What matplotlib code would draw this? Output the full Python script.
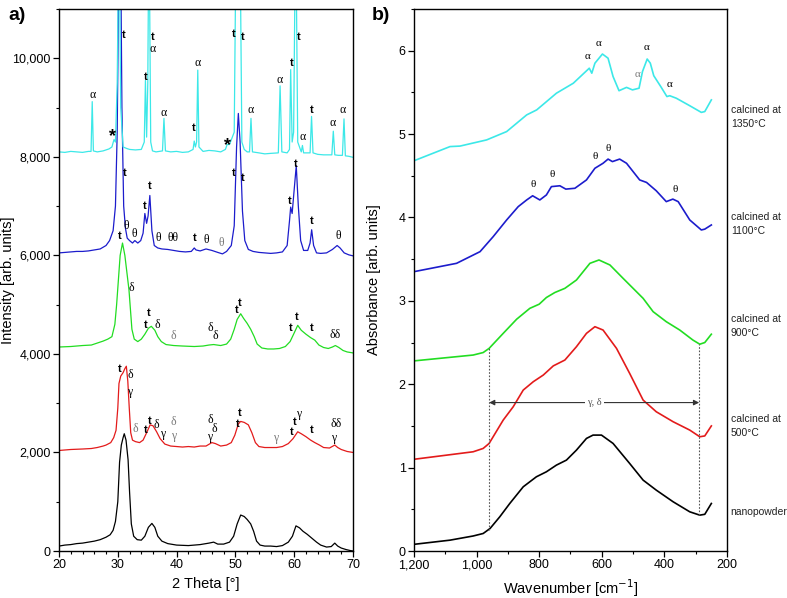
import matplotlib
matplotlib.use("Agg")
import matplotlib.pyplot as plt
from matplotlib.ticker import MultipleLocator, FuncFormatter

plt.rcParams['font.family'] = ['Liberation Sans', 'DejaVu Sans']

# ---------------- Panel a: XRD data ----------------
c1350_x = [20, 21, 22, 23, 24, 25, 25.45, 25.65, 25.85, 26.5, 27.5, 28.5, 29.0, 29.35, 29.6, 29.9, 30.2, 30.5,
           30.9, 31.5, 32, 33, 34.0, 34.5, 34.7, 34.9, 35.1, 35.3, 35.6, 35.9, 36.5, 37.6, 37.85, 38.1, 39, 40, 41,
           42, 42.8, 43.0, 43.2, 43.4, 43.6, 43.8, 44.5, 45.5, 46.5, 47.5, 48.3, 48.6, 49.0, 49.8, 50.15, 50.45,
           50.75, 51.1, 51.5, 52.0, 52.4, 52.65, 52.9, 54, 55, 56, 57.3, 57.6, 57.9, 58.8, 59.2, 59.4, 59.65, 59.9,
           60.25, 60.6, 61.2, 61.4, 61.6, 62.7, 62.95, 63.2, 64, 65, 66.4, 66.65, 66.9, 67.5, 68.2, 68.47, 68.7,
           69.3, 70]
c1350_y = [8100, 8090, 8110, 8100, 8090, 8110, 8110, 9120, 8120, 8100, 8120, 8160, 8200, 8350, 8300, 9500, 13000,
           9000, 8200, 8170, 8150, 8140, 8150, 8300, 9550, 8400, 9500, 13000, 8300, 8120, 8100, 8120, 8780, 8120,
           8100, 8110, 8090, 8100, 8150, 8320, 8200, 8300, 9760, 8200, 8110, 8130, 8120, 8100, 8150, 8250, 8250,
           8500, 13000, 12000, 13000, 8300, 8150, 8100, 8100, 8780, 8100, 8080, 8060, 8070, 8080, 9440, 8100, 8080,
           8150, 9770, 8300, 8500, 13000, 8300, 8100, 8230, 8080, 8080, 8820, 8080, 8050, 8040, 8040, 8520, 8040,
           8030, 8030, 8770, 8020, 8010, 7990]

c1100_x = [20, 21, 22, 23, 24, 25, 26, 27, 28, 28.6, 29.2, 29.6, 29.9, 30.1, 30.3, 30.5, 30.7, 31.0, 31.3, 31.6,
           32.0, 32.5, 32.9, 33.4, 33.9, 34.3, 34.6, 34.9, 35.15, 35.45, 35.8, 36.2, 36.8, 37.5, 38.5, 39.5, 40.5,
           41.5, 42.5, 43.0, 43.3, 44.0, 45.0, 46.0, 47.0, 47.8, 48.5, 49.3, 49.8, 50.2, 50.5, 50.8, 51.2, 51.6,
           52.2, 53, 54, 55, 56, 57, 58, 58.8, 59.2, 59.4, 59.65, 59.9, 60.35, 60.7, 61.1, 61.6, 62.3, 62.7, 62.97,
           63.3, 63.8, 64.5, 65.5, 66.5, 67.3, 67.8, 68.5, 69.3, 70]
c1100_y = [6050, 6060, 6070, 6080, 6080, 6090, 6110, 6130, 6200, 6300, 6500, 7000, 8500, 11000, 13000, 12000, 9000,
           7000, 6550, 6350, 6300, 6250, 6300, 6250, 6300, 6450, 6850, 6650, 6800, 7215, 6500, 6200, 6150, 6130,
           6120, 6100, 6080, 6070, 6080, 6150, 6110, 6090, 6130, 6100, 6060, 6030, 6080, 6200, 6600, 8200, 8880,
           8300, 6900, 6300, 6120, 6080, 6060, 6050, 6040, 6050, 6070, 6200, 6700, 6980, 6850, 7200, 7820, 7000,
           6300, 6100, 6100, 6250, 6520, 6200, 6050, 6040, 6050, 6120, 6200, 6150, 6050, 6010, 5990]

c900_x = [20, 22, 24, 25.5, 26.5, 27.5, 28.3, 29.0, 29.5, 29.8, 30.1, 30.4, 30.8, 31.2, 31.6, 31.9, 32.15, 32.4,
          32.8, 33.4, 34.0, 34.6, 35.2, 35.7, 36.3, 36.8, 37.4, 38.2, 39.5, 41, 43, 44.5, 45.5, 46.3, 47.5, 48.5,
          49.2, 49.8, 50.3, 50.9, 51.4, 52.0, 52.6, 53.2, 53.7, 54.5, 55.5, 56.5, 57.5, 58.5, 59.3, 59.9, 60.6,
          61.2, 62.0, 62.8, 63.5, 64.2, 65, 65.8, 66.5, 67.0, 67.6, 68.3, 69, 70]
c900_y = [4140, 4150, 4170, 4180, 4220, 4260, 4300, 4350, 4600, 5000, 5500, 6000, 6250, 6000, 5600, 5300, 4900,
          4500, 4300, 4250, 4300, 4400, 4520, 4560, 4480, 4350, 4250, 4190, 4170, 4160, 4150, 4160, 4180, 4190,
          4170, 4200, 4300, 4500, 4700, 4815, 4720, 4620, 4500, 4350, 4200, 4120, 4100, 4100, 4110, 4150, 4250,
          4400, 4580, 4480, 4400, 4330, 4280, 4180, 4130, 4110, 4140, 4170, 4130, 4070, 4040, 4020]

c500_x = [20, 22, 24, 25.5, 26.5, 27.5, 28, 28.8, 29.3, 29.7, 30.0, 30.2, 30.5, 30.9, 31.2, 31.45, 31.7, 31.95,
          32.2, 32.5, 33, 33.7, 34.3, 34.9, 35.5, 36.0, 36.6, 37.2, 38, 39, 40, 41, 42, 43, 44, 45, 46, 46.6, 47.5,
          48.5, 49.3, 49.9, 50.5, 50.9, 51.5, 52.2, 52.8, 53.4, 54, 55, 56, 57, 58, 59, 59.8, 60.6, 61.2, 62, 62.8,
          63.5, 64.3, 65, 66, 66.9, 67.4, 68, 69, 70]
c500_y = [2040, 2060, 2070, 2080, 2100, 2130, 2150, 2200, 2300, 2450, 2900, 3400, 3550, 3620, 3700, 3750, 3450,
          2900, 2400, 2250, 2220, 2200, 2250, 2400, 2560, 2540, 2420, 2280, 2170, 2130, 2120, 2110, 2120, 2110,
          2130, 2130, 2200, 2180, 2130, 2150, 2200, 2350, 2580, 2630, 2610, 2560, 2400, 2200, 2120, 2100, 2100,
          2100, 2120, 2180, 2280, 2420, 2380, 2320, 2250, 2200, 2150, 2100, 2090, 2150, 2100, 2060, 2020, 2000]

nano_x = [20, 21, 22, 23, 24, 25, 26, 27, 28, 28.7, 29.2, 29.6, 30.0, 30.3, 30.6, 30.9, 31.1, 31.4, 31.75, 32.0,
          32.3, 32.7, 33.3, 34.0, 34.6, 35.2, 35.8, 36.3, 36.8, 37.5, 38.5, 40, 42, 44, 45.5, 46.3, 47, 48, 49,
          49.7, 50.3, 50.9, 51.5, 52.0, 52.6, 53.1, 53.6, 54.2, 55, 56, 57, 58, 59, 59.7, 60.3, 60.9, 61.5, 62.2,
          63, 63.8, 64.5, 65.5, 66.3, 66.9, 67.4, 68, 68.8, 69.5, 70]
nano_y = [100, 120, 130, 150, 160, 180, 200, 230, 280, 330, 420, 600, 1000, 1800, 2150, 2300, 2380, 2250, 1850,
          1200, 550, 300, 230, 220, 300, 480, 560, 480, 300, 200, 150, 120, 110, 130, 160, 180, 140, 140, 180, 300,
          550, 730, 700, 640, 550, 400, 200, 120, 100, 100, 90, 110, 180, 300, 510, 470, 400, 340, 260, 180, 120,
          80, 90, 160, 100, 60, 30, 10, 0]

xrd_series = [(nano_x, nano_y, 'black'), (c500_x, c500_y, '#e31b1b'), (c900_x, c900_y, '#22dd22'),
              (c1100_x, c1100_y, '#1c1ccc'), (c1350_x, c1350_y, '#3ce8e8')]

# annotation labels: (text, 2theta, intensity, style)  style: b=bold t, g=greek, G=gray greek, s=star
xrd_labels = [
    ('α', 25.67, 9260, 'g'), ('*', 29.1, 8420, 's'), ('t', 30.94, 10470, 'b'), ('t', 34.68, 9625, 'b'),
    ('t', 36.0, 10440, 'b'), ('α', 36.0, 10180, 'g'), ('α', 37.86, 8895, 'g'), ('t', 42.9, 8578, 'b'),
    ('α', 43.5, 9895, 'g'), ('*', 48.74, 8230, 's'), ('t', 49.65, 10490, 'b'), ('t', 51.3, 10440, 'b'),
    ('α', 52.65, 8950, 'g'), ('α', 57.6, 9560, 'g'), ('t', 59.5, 9910, 'b'), ('t', 60.7, 10440, 'b'),
    ('α', 61.44, 8410, 'g'), ('t', 62.9, 8950, 'b'), ('α', 66.5, 8690, 'g'), ('α', 68.2, 8950, 'g'),
    ('t', 31.1, 7665, 'b'), ('θ', 31.5, 6590, 'g'), ('θ', 32.8, 6440, 'g'), ('t', 34.6, 7000, 'b'),
    ('t', 35.36, 7415, 'b'), ('θ', 36.84, 6350, 'g'), ('θθ', 39.45, 6350, 'g'), ('t', 43.1, 6350, 'b'),
    ('θ', 45.0, 6310, 'g'), ('θ', 47.66, 6250, 'G'), ('t', 49.7, 7665, 'b'), ('t', 51.3, 7560, 'b'),
    ('t', 59.3, 7100, 'b'), ('t', 60.2, 7860, 'b'), ('t', 62.97, 6690, 'b'), ('θ', 67.5, 6400, 'g'),
    ('t', 30.37, 6385, 'b'), ('δ', 32.25, 5345, 'g'), ('t', 35.25, 4830, 'b'), ('t', 34.68, 4590, 'b'),
    ('δ', 36.67, 4590, 'g'), ('δ', 39.5, 4355, 'G'), ('δ', 45.7, 4525, 'g'), ('δ', 46.6, 4355, 'g'),
    ('t', 50.3, 4900, 'b'), ('t', 50.8, 5040, 'b'), ('t', 59.34, 4530, 'b'), ('t', 60.42, 4750, 'b'),
    ('t', 63.0, 4530, 'b'), ('δδ', 66.94, 4390, 'g'),
    ('t', 30.26, 3700, 'b'), ('δ', 32.19, 3565, 'g'), ('γ', 32.07, 3230, 'g'), ('δ', 32.9, 2485, 'G'),
    ('t', 34.8, 2450, 'b'), ('t', 35.4, 2635, 'b'), ('δ', 36.6, 2555, 'g'), ('γ', 37.6, 2370, 'g'),
    ('δ', 39.5, 2620, 'G'), ('γ', 39.5, 2330, 'G'), ('δ', 45.7, 2660, 'g'), ('δ', 46.4, 2470, 'g'),
    ('γ', 45.6, 2320, 'g'), ('t', 50.8, 2800, 'b'), ('t', 50.4, 2575, 'b'), ('γ', 56.9, 2285, 'G'),
    ('t', 59.6, 2420, 'b'), ('t', 60.1, 2620, 'b'), ('γ', 60.8, 2775, 'g'), ('t', 62.97, 2450, 'b'),
    ('δδ', 67.05, 2570, 'g'), ('γ', 66.65, 2290, 'g'),
]

# ---------------- Panel b: IR data ----------------
ir1350_w = [1200, 1085, 1053, 968, 904, 872, 840, 808, 745, 691, 640, 632, 622, 598, 580, 564, 545, 521, 502, 481,
            470, 455, 445, 434, 410, 392, 383, 362, 319, 282, 271, 250]
ir1350_a = [4.68, 4.85, 4.856, 4.93, 5.03, 5.13, 5.23, 5.29, 5.49, 5.61, 5.79, 5.73, 5.85, 5.96, 5.91, 5.69, 5.52,
            5.56, 5.53, 5.55, 5.75, 5.90, 5.85, 5.70, 5.56, 5.45, 5.46, 5.43, 5.34, 5.26, 5.27, 5.41]
ir1100_w = [1200, 1064, 989, 947, 904, 867, 840, 821, 798, 777, 761, 734, 715, 686, 649, 622, 596, 580, 566, 543,
            521, 479, 457, 426, 394, 373, 356, 319, 282, 271, 250]
ir1100_a = [3.35, 3.45, 3.59, 3.77, 3.97, 4.13, 4.21, 4.26, 4.21, 4.27, 4.37, 4.38, 4.34, 4.35, 4.45, 4.59, 4.65,
            4.70, 4.67, 4.70, 4.65, 4.45, 4.42, 4.32, 4.19, 4.22, 4.19, 3.97, 3.85, 3.86, 3.91]
ir900_w = [1200, 1011, 979, 960, 915, 872, 830, 800, 777, 750, 718, 681, 638, 609, 574, 532, 468, 436, 394, 351,
           309, 287, 271, 250]
ir900_a = [2.28, 2.35, 2.38, 2.43, 2.61, 2.78, 2.91, 2.96, 3.04, 3.10, 3.15, 3.25, 3.45, 3.49, 3.43, 3.27, 3.03,
           2.87, 2.75, 2.65, 2.53, 2.48, 2.50, 2.60]
ir500_w = [1200, 1011, 979, 960, 915, 883, 851, 819, 787, 755, 718, 681, 649, 622, 596, 553, 511, 468, 426, 372,
           319, 287, 271, 250]
ir500_a = [1.10, 1.19, 1.23, 1.29, 1.57, 1.73, 1.93, 2.03, 2.11, 2.22, 2.29, 2.45, 2.61, 2.69, 2.65, 2.43, 2.13,
           1.81, 1.67, 1.55, 1.45, 1.37, 1.38, 1.50]
irnano_w = [1200, 1085, 1011, 979, 957, 926, 894, 851, 809, 777, 745, 713, 681, 649, 628, 601, 564, 511, 468, 426,
            372, 319, 287, 271, 250]
irnano_a = [0.08, 0.13, 0.18, 0.21, 0.27, 0.41, 0.57, 0.77, 0.89, 0.95, 1.03, 1.09, 1.21, 1.35, 1.39, 1.39, 1.29,
            1.05, 0.85, 0.73, 0.59, 0.47, 0.43, 0.44, 0.57]

ir_series = [(irnano_w, irnano_a, 'black'), (ir500_w, ir500_a, '#e31b1b'), (ir900_w, ir900_a, '#22dd22'),
             (ir1100_w, ir1100_a, '#1c1ccc'), (ir1350_w, ir1350_a, '#3ce8e8')]
ir_names = ['nanopowder', 'calcined at\n500°C', 'calcined at\n900°C', 'calcined at\n1100°C', 'calcined at\n1350°C']
ir_name_y = [0.47, 1.50, 2.70, 3.92, 5.20]

ir_labels = [('α', 645, 5.93, 'g'), ('α', 609, 6.09, 'g'), ('α', 486, 5.72, 'G'), ('α', 457, 6.04, 'g'),
             ('α', 385, 5.60, 'g'), ('θ', 819, 4.39, 'g'), ('θ', 758, 4.52, 'g'), ('θ', 620, 4.73, 'g'),
             ('θ', 580, 4.83, 'g'), ('θ', 365, 4.34, 'g')]

band_w = [960, 289]
band_low = [0.25, 0.43]
band_high = [2.43, 2.48]
band_arrow_y = 1.78

# ---------------- Figure ----------------
fig = plt.figure(figsize=(7.87, 5.98), dpi=100)
axa = fig.add_axes([59 / 787, 47 / 598, 294 / 787, 542 / 598])
axb = fig.add_axes([414 / 787, 47 / 598, 313 / 787, 542 / 598])

comma = FuncFormatter(lambda v, p: f"{v:,.0f}")


def draw_label(ax, txt, x, y, style, size_t=8, size_g=8.5):
    if style == 'b':
        ax.text(x, y, txt, ha='center', va='center', fontsize=size_t, fontweight='bold', color='black')
    elif style == 's':
        ax.text(x, y, txt, ha='center', va='center', fontsize=13, fontweight='bold', color='black')
    else:
        ax.text(x, y, txt, ha='center', va='center', fontsize=size_g, family='Liberation Serif',
                color='#7a7a7a' if style == 'G' else 'black')


for xs, ys, col in xrd_series:
    axa.plot(xs, ys, color=col, lw=0.9)
for txt, x, y, st in xrd_labels:
    draw_label(axa, txt, x, y, st)

axa.set_xlim(20, 70)
axa.set_ylim(0, 11000)
axa.xaxis.set_major_locator(MultipleLocator(10))
axa.xaxis.set_minor_locator(MultipleLocator(2))
axa.yaxis.set_major_locator(MultipleLocator(2000))
axa.yaxis.set_minor_locator(MultipleLocator(1000))
axa.yaxis.set_major_formatter(comma)
axa.set_xlabel('2 Theta [°]', fontsize=10.5, labelpad=4)
axa.set_ylabel('Intensity [arb. units]', fontsize=10.5)
axa.yaxis.set_label_coords(-0.148, 0.5)

for ax in (axa, axb):
    ax.tick_params(which='major', direction='out', length=4, width=0.9, labelsize=9, pad=2)
    ax.tick_params(which='minor', direction='out', length=2.5, width=0.8)
    for s in ax.spines.values():
        s.set_linewidth(1.0)

for w, a, col in ir_series:
    axb.plot(w, a, color=col, lw=1.2)
for txt, x, y, st in ir_labels:
    draw_label(axb, txt, x, y, st, size_g=8)

for w, lo, hi in zip(band_w, band_low, band_high):
    axb.plot([w, w], [lo, hi], color='#555555', lw=0.8, ls=(0, (1.5, 1.5)))
axb.annotate('', xy=(band_w[0], band_arrow_y), xytext=(band_w[1], band_arrow_y),
             arrowprops=dict(arrowstyle='<|-|>', color='#333333', lw=0.8, mutation_scale=8, shrinkA=0, shrinkB=0))
axb.text(sum(band_w) / 2, band_arrow_y, 'γ, δ', ha='center', va='center', fontsize=7.5, family='Liberation Serif',
         color='#555555', bbox=dict(facecolor='white', edgecolor='none', pad=1.5))

for name, y in zip(ir_names, ir_name_y):
    axb.text(1.012, y, name, transform=axb.get_yaxis_transform(), ha='left', va='center', fontsize=7.5,
             linespacing=1.5, color='#222222')

axb.set_xlim(1200, 200)
axb.set_ylim(0, 6.5)
axb.xaxis.set_major_locator(MultipleLocator(200))
axb.xaxis.set_minor_locator(MultipleLocator(100))
axb.yaxis.set_major_locator(MultipleLocator(1))
axb.yaxis.set_minor_locator(MultipleLocator(0.5))
axb.xaxis.set_major_formatter(comma)
axb.set_xlabel('Wavenumber [cm$^{-1}$]', fontsize=10.5, labelpad=4)
axb.set_ylabel('Absorbance [arb. units]', fontsize=10.5)
axb.yaxis.set_label_coords(-0.105, 0.5)

fig.text(8 / 787, 1 - 16 / 598, 'a)', fontsize=14, fontweight='bold', va='center', ha='left')
fig.text(372 / 787, 1 - 16 / 598, 'b)', fontsize=14, fontweight='bold', va='center', ha='left')

fig.savefig('out.png', dpi=100)
